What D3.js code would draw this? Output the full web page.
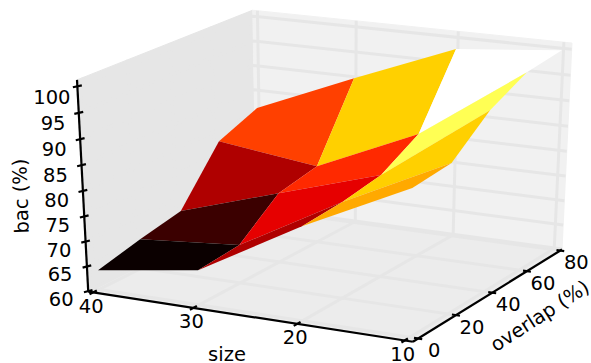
<!DOCTYPE html>
<html><head><meta charset="utf-8"><style>html,body{margin:0;padding:0;background:#fff}svg{display:block}text{font-family:"DejaVu Sans",sans-serif;font-size:19.5px;fill:#000}</style></head>
<body><svg id="c" width="591" height="363"></svg>
<script src="https://cdn.jsdelivr.net/npm/d3@7"></script>
<script>
const sizes=[40,30,20,10];
const overlaps=[0,20,40,60,80];
const bacTicks=[60,65,70,75,80,85,90,95,100];
const bacSize40=[63.8,65.9,67.6,78.2,81.5];
const bacSize30=[66.8,67.6,74.0,75.6,89.9];
const bacSize20=[78.3,78.9,80.3,84.6,97.9];
const bacSize10=[88.2,89.0,95.2,98.9,99.8];
const facetLevel40to30=[66.0,68.1,73.2,79.5];
const facetLevel30to20=[73.2,75.6,78.5,85.8];
const facetLevel20to10=[84.1,85.8,90.3,95.3];

const bac=[bacSize40,bacSize30,bacSize20,bacSize10];
const facetLevels=[facetLevel40to30,facetLevel30to20,facetLevel20to10];

const su=d3.scaleLinear([40.5,9.25],[0,1]);
const sv=d3.scaleLinear([-2.7,81],[0,1]);
const sw=d3.scaleLinear([59.9,101.2],[0,1]);
// camera matrix (box coordinates -> screen)
const cam=[[302.62634,189.75021,-14.58264,88.24192],[31.88245,-65.72947,-215.24893,291.65383],[-0.05332,0.08650,-0.04355,1]];
const hom=(u,v,w)=>cam.map(r=>r[0]*u+r[1]*v+r[2]*w+r[3]);
const pr=(u,v,w)=>{const h=hom(u,v,w);return [h[0]/h[2],h[1]/h[2]];};
const hot=d3.scaleLinear().domain([0,0.365,0.746,1]).range(["#0b0000","#ff0000","#ffff00","#ffffff"]).clamp(true);
const norm=d3.scaleLinear([66,95.3],[0,1]);
const line=d3.line();
const svg=d3.select("#c");

// panes
const panes=[
 {c:"#e6e6e6",p:[[0,0,0],[0,1,0],[0,1,1],[0,0,1]]},
 {c:"#f1f1f1",p:[[0,1,0],[1,1,0],[1,1,1],[0,1,1]]},
 {c:"#ececec",p:[[0,0,0],[1,0,0],[1,1,0],[0,1,0]]}];
svg.append("g").selectAll("path").data(panes).join("path")
 .attr("d",d=>line(d.p.map(q=>pr(...q)))+"Z").attr("fill",d=>d.c).attr("stroke",d=>d.c).attr("stroke-width",1);

// grid
const grid=[];
sizes.forEach(s=>grid.push([[su(s),0,0],[su(s),1,0],[su(s),1,1]]));
overlaps.forEach(o=>grid.push([[1,sv(o),0],[0,sv(o),0],[0,sv(o),1]]));
bacTicks.forEach(b=>grid.push([[0,0,sw(b)],[0,1,sw(b)],[1,1,sw(b)]]));
svg.append("g").attr("fill","none").attr("stroke","#e6e6e6").attr("stroke-width",3)
 .selectAll("path").data(grid).join("path").attr("d",d=>line(d.map(q=>pr(...q))));

// surface
const facets=[];
for(let i=0;i<sizes.length-1;i++)for(let j=0;j<overlaps.length-1;j++){
 const c=[[i,j],[i,j+1],[i+1,j+1],[i+1,j]].map(([a,b])=>[su(sizes[a]),sv(overlaps[b]),sw(bac[a][b])]);
 facets.push({c,level:facetLevels[i][j],depth:d3.mean(c,q=>hom(...q)[2])});
}
facets.sort((a,b)=>b.depth-a.depth);
svg.append("g").selectAll("path").data(facets).join("path")
 .attr("d",d=>line(d.c.map(q=>pr(...q)))+"Z").attr("fill",d=>hot(norm(d.level)));

// axes
const ax=svg.append("g").attr("fill","none").attr("stroke","#000").attr("stroke-width",2.2);
const seg=(a,b)=>ax.append("path").attr("d",line([pr(...a),pr(...b)]));
seg([0,0,0],[1,0,0]);seg([1,0,0],[1,1,0]);seg([0,0,0],[0,0,1]);
sizes.forEach(s=>seg([su(s),-0.02,0],[su(s),0.02,0]));
overlaps.forEach(o=>seg([0.988,sv(o),0],[1.012,sv(o),0]));
bacTicks.forEach(b=>seg([-0.005,-0.015,sw(b)],[0.005,0.015,sw(b)]));

// labels
const lab=svg.append("g").attr("text-anchor","middle").attr("dominant-baseline","central");
const put=(t,p,dx,dy)=>lab.append("text").attr("x",p[0]+dx).attr("y",p[1]+dy).text(t);
const labelShift=d3.scaleLinear([60,100],[0,1]);
sizes.forEach(s=>put(s,pr(su(s),0,0),-2,14));
overlaps.forEach(o=>put(o,pr(1,sv(o),0),16,12));
bacTicks.forEach(b=>put(b,pr(0,0,sw(b)),-27+1.5*labelShift(b),8+3.2*labelShift(b)));
lab.append("text").attr("transform","translate(21,196) rotate(-92)").text("bac (%)");
lab.append("text").attr("x",227).attr("y",354).text("size");
lab.append("text").attr("transform","translate(540,316) rotate(-33)").text("overlap (%)");
</script></body></html>
